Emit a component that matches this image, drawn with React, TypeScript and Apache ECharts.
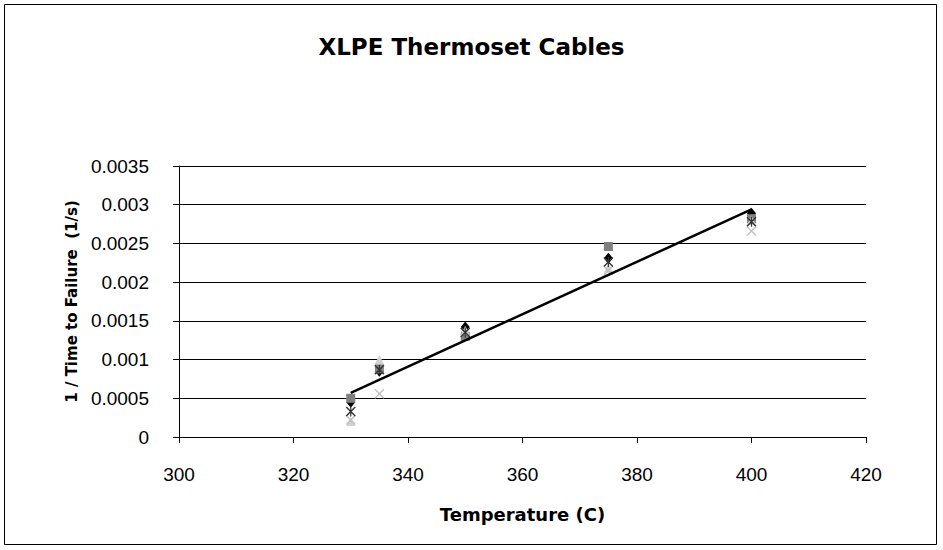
import React, { useEffect, useRef } from "react";
import * as echarts from "echarts";

const temperatures = [330, 335, 350, 375, 400];
const seriesDiamond = [0.00045, 0.00085, 0.00142, 0.00231, 0.00289];
const seriesSquare = [0.0005, 0.00088, 0.0013, 0.00246, 0.00282];
const seriesTriangle = [0.0002, 0.001, 0.00138, 0.00218, 0.0028];
const seriesCross = [0.00022, 0.00056, 0.00135, 0.00215, 0.00266];
const seriesStar = [0.00033, 0.00087, 0.00135, 0.00226, 0.00278];
const trendX = [330, 400];
const trendY = [0.00057, 0.00294];

const X_PATH = "path://M0,1 L1,0 L5,4 L9,0 L10,1 L6,5 L10,9 L9,10 L5,6 L1,10 L0,9 L4,5 Z";
const STAR_PATH =
  "path://M0,1 L1,0 L5,4 L9,0 L10,1 L6,5 L10,9 L9,10 L5,6 L1,10 L0,9 L4,5 Z M4.4,0 L5.6,0 L5.6,10 L4.4,10 Z";

const FONT = "'Liberation Sans', Arial, sans-serif";
const BOLD_FONT = "'DejaVu Sans', 'Liberation Sans', Arial, sans-serif";

function pairs(xs: number[], ys: number[]) {
  return xs.map((x, i) => [x, ys[i]]);
}

export default function App() {
  const ref = useRef<HTMLDivElement>(null);
  useEffect(() => {
    if (!ref.current) return;
    const chart = echarts.init(ref.current, null, { renderer: "svg" });
    const scatter = (name: string, data: number[], symbol: string, color: string, size: any, z: number) => ({
      name,
      type: "scatter",
      data: pairs(temperatures, data),
      symbol,
      symbolSize: size,
      itemStyle: { color, opacity: 1 },
      z,
    });
    chart.setOption({
      animation: false,
      backgroundColor: "#ffffff",
      title: {
        text: "XLPE Thermoset Cables",
        left: "center",
        top: 30,
        textStyle: { fontFamily: BOLD_FONT, fontSize: 23, fontWeight: "bold", color: "#000" },
      },
      graphic: [
        {
          type: "rect",
          shape: { x: 4.5, y: 4.5, width: 932, height: 540 },
          style: { fill: "none", stroke: "#000", lineWidth: 1 },
          silent: true,
        },
      ],
      grid: { left: 179, right: 77, top: 166, bottom: 113, containLabel: false },
      xAxis: {
        type: "value",
        min: 300,
        max: 420,
        interval: 20,
        name: "Temperature (C)",
        nameLocation: "middle",
        nameGap: 68,
        nameMoveOverlap: false,
        nameTextStyle: { fontFamily: BOLD_FONT, fontSize: 18, fontWeight: "bold", color: "#000" },
        axisLine: { show: true, onZero: false, lineStyle: { color: "#000", width: 1 } },
        axisTick: { show: true, inside: false, length: 6, lineStyle: { color: "#000" } },
        axisLabel: { fontFamily: FONT, fontSize: 19, color: "#000", margin: 28 },
        splitLine: { show: false },
      },
      yAxis: {
        type: "value",
        min: 0,
        max: 0.0035,
        interval: 0.0005,
        name: "1 / Time to Failure  (1/s)",
        nameLocation: "middle",
        nameGap: 100,
        nameMoveOverlap: false,
        nameTextStyle: { fontFamily: BOLD_FONT, fontSize: 15, fontWeight: "bold", color: "#000" },
        axisLine: { show: true, lineStyle: { color: "#000", width: 1 } },
        axisTick: { show: true, inside: false, length: 6, lineStyle: { color: "#000" } },
        axisLabel: {
          fontFamily: FONT,
          fontSize: 19,
          color: "#000",
          margin: 30,
          formatter: (v: number) => String(parseFloat(v.toFixed(4))),
        },
        splitLine: { show: true, lineStyle: { color: "#000", width: 1 } },
      },
      series: [
        scatter("Diamond", seriesDiamond, "diamond", "#000000", [9, 11], 3),
        scatter("Square", seriesSquare, "rect", "#808080", 9, 4),
        scatter("Triangle", seriesTriangle, "triangle", "#d0d0d0", 9, 5),
        scatter("Cross", seriesCross, X_PATH, "#c0c0c0", 10, 6),
        scatter("Star", seriesStar, STAR_PATH, "#333333", 10, 7),
        {
          name: "Trend",
          type: "line",
          data: pairs(trendX, trendY),
          symbol: "none",
          lineStyle: { color: "#000", width: 2.5 },
          z: 8,
        },
      ],
    });
    return () => chart.dispose();
  }, []);
  return (
    <div
      ref={ref}
      style={{ position: "absolute", left: 0, top: 0, width: 943, height: 550 }}
    />
  );
}
